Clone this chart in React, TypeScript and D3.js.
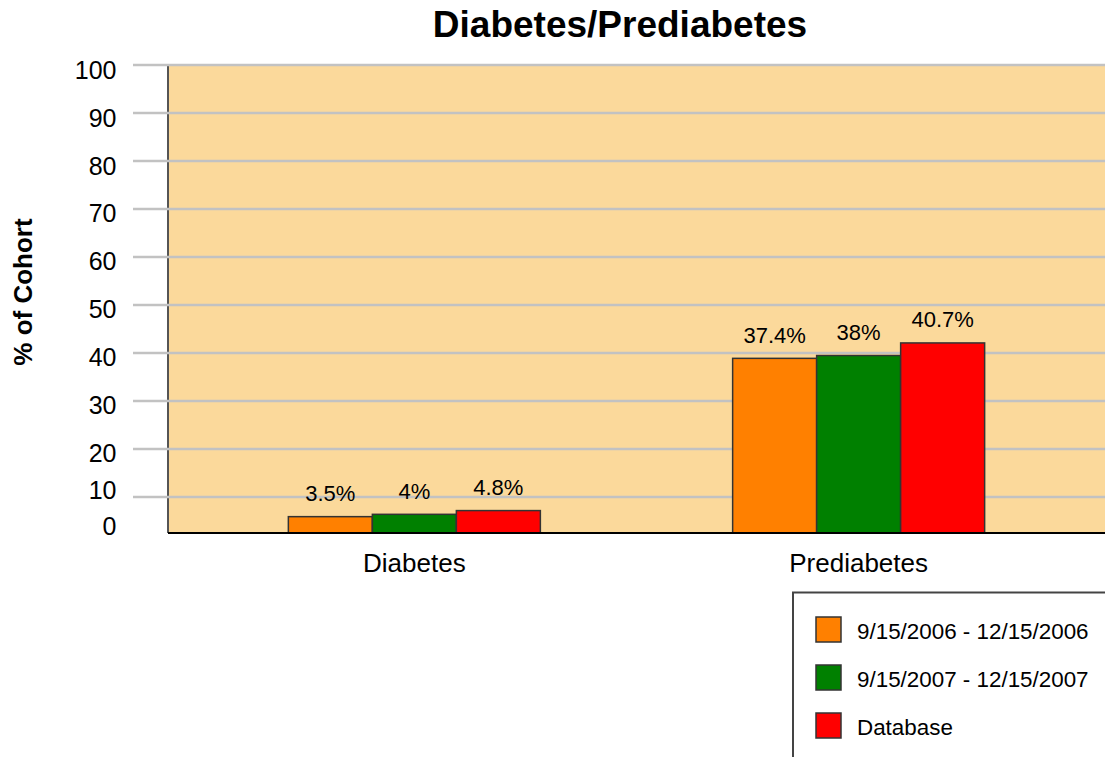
import React from "react";
import * as d3 from "d3";

const categories = ["Diabetes", "Prediabetes"];
const seriesNames = ["9/15/2006 - 12/15/2006", "9/15/2007 - 12/15/2007", "Database"];
const seriesColors = ["#FF8000", "#008000", "#FF0000"];
const values2006 = [3.5, 37.4];
const values2007 = [4, 38];
const valuesDatabase = [4.8, 40.7];
const seriesValues = [values2006, values2007, valuesDatabase];
const tickValues = [0, 10, 20, 30, 40, 50, 60, 70, 80, 90, 100];

const W = 1105;
const H = 757;
const FONT = "'Liberation Sans', Arial, Helvetica, sans-serif";

export default function App() {
  const plotLeft = 168;
  const plotRight = 1105;
  const yBar = d3.scaleLinear().domain([0, 100]).range([533, 66]);
  const yGrid = d3.scaleLinear().domain([0, 100]).range([545, 65]);
  const yLabel = d3.scaleLinear().domain([0, 10, 20, 100]).range([526, 490, 452.5, 70]);
  const x0 = d3.scalePoint<string>().domain(categories).range([plotLeft, plotRight]).padding(0.5545);
  const x1 = d3.scaleBand<string>().domain(seriesNames).range([-126, 126]).padding(0);

  const fmt = (v: number) => `${v}%`;

  return (
    <svg
      width={W}
      height={H}
      style={{ position: "absolute", left: 0, top: 0, background: "#fff" }}
      fontFamily={FONT}
    >
      {/* title */}
      <text x={620} y={37} textAnchor="middle" fontSize={37} fontWeight="bold" fill="#000">
        Diabetes/Prediabetes
      </text>

      {/* plot background */}
      <rect x={plotLeft} y={yBar(100)} width={plotRight - plotLeft} height={yBar(0) - yBar(100)} fill="#FBD99B" />

      {/* left axis line */}
      <line x1={plotLeft} x2={plotLeft} y1={yBar(100)} y2={yBar(0)} stroke="#555" strokeWidth={2} />

      {/* gridlines */}
      {tickValues.filter((t) => t > 0).map((t) => (
        <line key={"g" + t} x1={133} x2={plotRight} y1={yGrid(t)} y2={yGrid(t)} stroke="#C2C2C2" strokeWidth={2.5} />
      ))}

      {/* tick labels */}
      {tickValues.map((t) => (
        <text key={"t" + t} x={116.5} y={yLabel(t)} textAnchor="end" dominantBaseline="central" fontSize={25} fill="#000">
          {t}
        </text>
      ))}

      {/* bars */}
      {seriesValues.map((vals, si) =>
        categories.map((c, ci) => {
          const x = (x0(c) as number) + (x1(seriesNames[si]) as number);
          const y = yBar(vals[ci]);
          return (
            <g key={`b${si}-${ci}`}>
              <rect x={x} y={y} width={x1.bandwidth()} height={yBar(0) - y} fill={seriesColors[si]} stroke="#333" strokeWidth={1.5} />
              <text x={x + x1.bandwidth() / 2} y={y - 15.5} textAnchor="middle" fontSize={22} fill="#000">
                {fmt(vals[ci])}
              </text>
            </g>
          );
        })
      )}

      {/* bottom axis */}
      <line x1={plotLeft} x2={plotRight} y1={yBar(0)} y2={yBar(0)} stroke="#000" strokeWidth={2} />

      {/* category labels */}
      {categories.map((c) => (
        <text key={"c" + c} x={x0(c) as number} y={572} textAnchor="middle" fontSize={26} fill="#000">
          {c}
        </text>
      ))}

      {/* y axis title */}
      <text
        transform={`translate(32,292) rotate(-90)`}
        textAnchor="middle"
        fontSize={26}
        fontWeight="bold"
        fill="#000"
      >
        % of Cohort
      </text>

      {/* legend */}
      <rect x={793} y={592.5} width={330} height={190} fill="#fff" stroke="#444" strokeWidth={2} />
      {seriesNames.map((s, i) => (
        <g key={"l" + i}>
          <rect x={816} y={617 + i * 48} width={25} height={25} fill={seriesColors[i]} stroke="#333" strokeWidth={1.5} />
          <text x={857} y={638.5 + i * 48} fontSize={22.4} fill="#000">
            {s}
          </text>
        </g>
      ))}
    </svg>
  );
}
